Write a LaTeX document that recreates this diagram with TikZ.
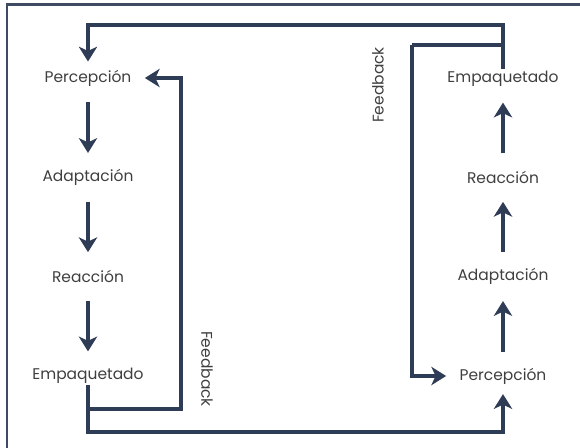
\documentclass[tikz,border=0pt]{standalone}
\usepackage{fontspec}
\setmainfont{Poppins}
\usepackage{xcolor}
\usetikzlibrary{arrows.meta}
\definecolor{azul}{HTML}{2E3C55}
\definecolor{texto}{HTML}{3F3F3F}
\definecolor{marco}{HTML}{3E4B63}

\begin{document}
\begin{tikzpicture}[x=0.025cm, y=-0.025cm, node distance=2.48cm, auto,
    etapa/.style={inner sep=0pt, minimum height=0.45cm, text=texto, font=\fontsize{11}{13}\selectfont},
    flujo/.style={draw=azul, line width=2.2pt, -{Stealth[length=10.5pt, width=13pt, inset=3pt]}},
    linea/.style={draw=azul, line width=2.2pt},
    etiqueta/.style={text=texto, font=\fontsize{11}{13}\selectfont}]
            \useasboundingbox (0,0) rectangle (580,448);
            \draw[marco, line width=1.6pt] (7,448) -- (7,4.5) -- (580,4.5);
            % columna izquierda
            \node[etapa] (p1) at (88,78) {Percepción};
            \node[etapa, below of=p1] (a1) {Adaptación};
            \node[etapa, below of=a1] (r1) {Reacción};
            \node[etapa, below of=r1] (e1) {Empaquetado};
            % columna derecha
            \node[etapa] (p2) at (503,376) {Percepción};
            \node[etapa, above of=p2] (a2) {Adaptación};
            \node[etapa, above of=a2] (r2) {Reacción};
            \node[etapa, above of=r2] (e2) {Empaquetado};
            \node[etiqueta, rotate=-90] (fb1) at (207,369) {Feedback};
            \node[etiqueta, rotate=90] (fb2) at (378,85) {Feedback};
            \coordinate (arriba) at (88,25);
            \coordinate (retroD) at (412,45);
            \coordinate (retroI) at (181,409);
            \coordinate (abajo) at (503,432);
            \path[flujo, shorten <=0.375cm, shorten >=0.375cm] (p1) -- (a1);
            \path[flujo, shorten <=0.375cm, shorten >=0.375cm] (a1) -- (r1);
            \path[flujo, shorten <=0.375cm, shorten >=0.375cm] (r1) -- (e1);
            \path[flujo, shorten <=0.375cm, shorten >=0.375cm] (p2) -- (a2);
            \path[flujo, shorten <=0.375cm, shorten >=0.375cm] (a2) -- (r2);
            \path[flujo, shorten <=0.375cm, shorten >=0.375cm] (r2) -- (e2);
            \path[flujo, shorten >=0.18cm] (e2.north) |- (arriba) -- (p1);
            \path[linea] (e2 |- retroD) -- (retroD);
            \path[flujo, shorten >=0.33cm] (retroD) |- (p2);
            \path[flujo, shorten >=0.33cm] (e1.south) |- (retroI) |- (p1);
            \path[flujo, shorten >=0.22cm] (e1.south) |- (abajo) -- (p2);
        \end{tikzpicture}
\end{document}
